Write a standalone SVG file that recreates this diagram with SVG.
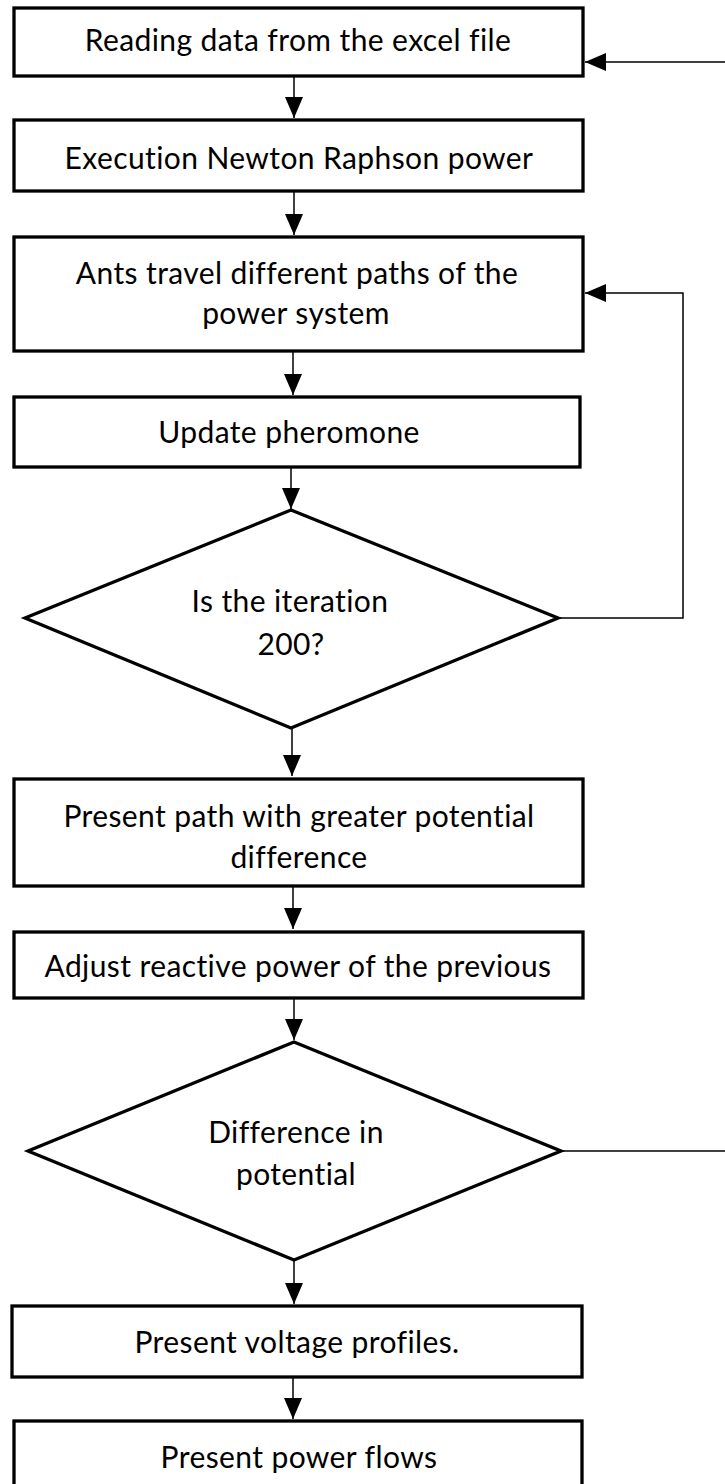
<svg xmlns="http://www.w3.org/2000/svg" width="725" height="1484" viewBox="0 0 725 1484">
<style>
.box{fill:#fff;stroke:#000;stroke-width:3.3}
.t{font-family:Lato,"Open Sans",sans-serif;font-size:30px;letter-spacing:0.4px;fill:#000;text-anchor:middle}
.c{fill:none;stroke:#000;stroke-width:1.5}
</style>
<defs>
<marker id="ah" viewBox="0 0 21 18" refX="21" refY="9" markerWidth="21" markerHeight="18" markerUnits="userSpaceOnUse" orient="auto">
<path d="M0,0 L21,9 L0,18 Z" fill="#000"/>
</marker>
</defs>
<rect width="725" height="1484" fill="#fff"/>
<g id="connectors">
<line class="c" x1="294" y1="76" x2="294" y2="118" marker-end="url(#ah)"/>
<line class="c" x1="725" y1="62" x2="585" y2="62" marker-end="url(#ah)"/>
<line class="c" x1="294" y1="191" x2="294" y2="235" marker-end="url(#ah)"/>
<line class="c" x1="293" y1="351" x2="293" y2="395" marker-end="url(#ah)"/>
<line class="c" x1="291" y1="467" x2="291" y2="509" marker-end="url(#ah)"/>
<polyline class="c" points="558,618 683,618 683,293 585,293" marker-end="url(#ah)"/>
<line class="c" x1="292" y1="728" x2="292" y2="776" marker-end="url(#ah)"/>
<line class="c" x1="293" y1="886" x2="293" y2="929" marker-end="url(#ah)"/>
<line class="c" x1="294" y1="998" x2="294" y2="1040" marker-end="url(#ah)"/>
<line class="c" x1="561" y1="1151" x2="725" y2="1151"/>
<line class="c" x1="294" y1="1260" x2="294" y2="1304" marker-end="url(#ah)"/>
<line class="c" x1="293" y1="1377" x2="293" y2="1419" marker-end="url(#ah)"/>
</g>
<g id="n1"><rect class="box" x="14" y="8" width="569" height="68"/><text class="t" x="298" y="51">Reading data from the excel file</text></g>
<g id="n2"><rect class="box" x="14" y="120" width="569" height="71"/><text class="t" x="299" y="169">Execution Newton Raphson power</text></g>
<g id="n3"><rect class="box" x="14" y="237" width="569" height="114"/><text class="t" x="297" y="284">Ants travel different paths of the</text><text class="t" x="296" y="324">power system</text></g>
<g id="n4"><rect class="box" x="14" y="397" width="566" height="70"/><text class="t" x="289" y="443">Update pheromone</text></g>
<g id="n5"><polygon class="box" points="291,510 558,618 291,728 25,618"/><text class="t" x="290" y="612">Is the iteration</text><text class="t" x="291" y="655">200?</text></g>
<g id="n6"><rect class="box" x="14" y="779" width="569" height="107"/><text class="t" x="299" y="827">Present path with greater potential</text><text class="t" x="299" y="868">difference</text></g>
<g id="n7"><rect class="box" x="14" y="932" width="569" height="66"/><text class="t" x="298" y="977">Adjust reactive power of the previous</text></g>
<g id="n8"><polygon class="box" points="294,1042 561,1151 294,1260 28,1151"/><text class="t" x="296" y="1143">Difference in</text><text class="t" x="296" y="1185">potential</text></g>
<g id="n9"><rect class="box" x="12" y="1306" width="570" height="71"/><text class="t" x="297" y="1353">Present voltage profiles.</text></g>
<g id="n10"><rect class="box" x="14" y="1421" width="568" height="80"/><text class="t" x="299" y="1468">Present power flows</text></g>
</svg>
